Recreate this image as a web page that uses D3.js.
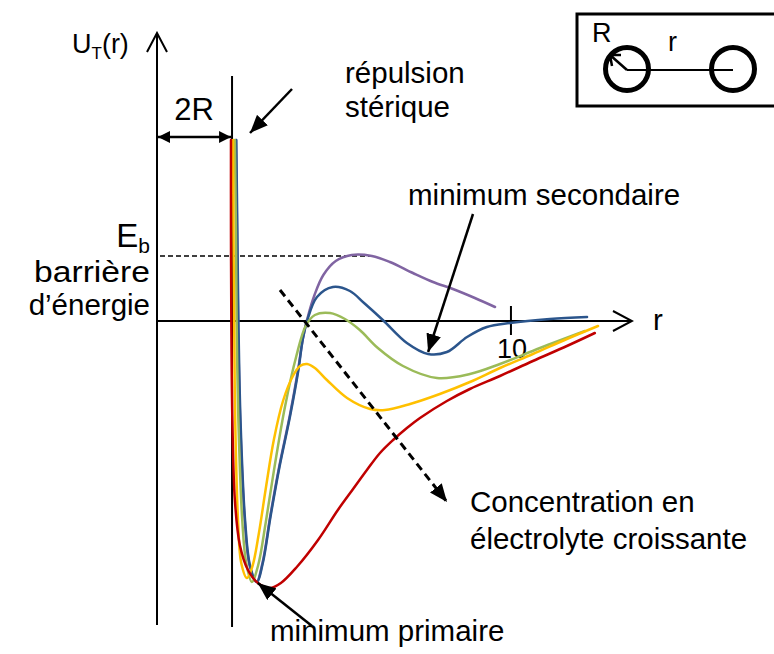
<!DOCTYPE html>
<html>
<head>
<meta charset="utf-8">
<script src="https://cdn.jsdelivr.net/npm/d3@7"></script>
<style>
  html, body { margin: 0; padding: 0; background: #fff; }
  svg { display: block; }
  text { font-family: "Liberation Sans", Arial, sans-serif; fill: #000; }
</style>
</head>
<body>
<svg id="chart" width="774" height="654"></svg>
<script>
// Interaction potential U_T(r) between two particles (DLVO profile),
// one curve per electrolyte concentration, lowest to highest.
const rMax = 13.42;          // end of the r axis
const uMin = -30.4;          // bottom of the U axis
const uMax = 28.8;           // top of the U axis
const radius = 1.06;         // particle radius R (contact at r = 2R)
const barrierEnergy = 6.5;   // E_b
const rTicks = [10];
const rTickLabels = ["10"];

const seriesNames = ["c1", "c2", "c3", "c4", "c5"];
const seriesColors = ["#8064A2", "#2B558C", "#9BBB59", "#FFC000", "#C00000"];

// [r, U] points along each profile
const curvePurple = [
  [2.23, 18.1], [2.26, 9.1], [2.29, 0], [2.35, -10], [2.48, -20], [2.62, -24.5],
  [2.81, -26.1], [2.98, -24.2], [3.2, -19.5], [3.45, -14.6], [3.75, -9.5],
  [3.98, -5.0], [4.12, -1.8], [4.26, 0.4], [4.45, 2.6], [4.7, 4.6], [5.05, 6.0],
  [5.5, 6.6], [6.07, 6.5], [6.58, 5.9], [7.23, 4.8], [7.8, 3.9], [8.36, 3.2],
  [8.98, 2.3], [9.55, 1.4]
];
const curveBlue = [
  [2.24, 18.1], [2.27, 9.1], [2.30, 0], [2.36, -10], [2.49, -20], [2.63, -24.5],
  [2.82, -26.1], [2.99, -24.2], [3.21, -19.5], [3.46, -14.6], [3.76, -9.5],
  [3.99, -5.0], [4.12, -1.8], [4.24, 0], [4.52, 2.4], [4.97, 3.4], [5.45, 3.0],
  [5.85, 1.8], [6.38, 0.1], [7.06, -2.2], [7.66, -3.3], [8.19, -3.1],
  [8.76, -1.6], [9.32, -0.6], [9.97, -0.2], [11.1, 0.2], [12.15, 0.4]
];
const curveGreen = [
  [2.20, 18.1], [2.23, 9.1], [2.25, 0], [2.30, -10], [2.41, -20], [2.52, -24.2],
  [2.68, -26.1], [2.86, -24.4], [3.07, -20.2], [3.32, -14.6], [3.62, -8.5],
  [3.93, -3.6], [4.2, -0.5], [4.46, 0.6], [4.89, 0.8], [5.31, 0.2],
  [5.73, -0.9], [6.24, -2.7], [6.95, -4.5], [7.91, -5.7], [8.84, -5.3],
  [9.69, -4.3], [10.82, -2.7], [12.09, -1.0]
];
const curveYellow = [
  [2.15, 18.1], [2.16, 9.1], [2.18, 0], [2.21, -10], [2.29, -20], [2.38, -24.2],
  [2.54, -25.7], [2.69, -24.6], [2.87, -21.4], [3.08, -16.6], [3.3, -11.9],
  [3.56, -8.0], [3.84, -5.5], [4.04, -4.5], [4.24, -4.3], [4.46, -4.7],
  [4.8, -5.9], [5.37, -7.7], [6.02, -8.8], [6.44, -8.9], [7.15, -8.3],
  [7.99, -7.3], [8.84, -6.1], [9.69, -4.7], [10.62, -3.3], [11.58, -1.8],
  [12.46, -0.5]
];
const curveRed = [
  [2.09, 18.1], [2.09, 9.1], [2.10, 0], [2.13, -10], [2.20, -17.9], [2.34, -22.4],
  [2.57, -24.9], [2.85, -26.2], [3.19, -26.7], [3.5, -26.2], [3.95, -24.6],
  [4.55, -21.9], [5.11, -18.9], [5.54, -16.8], [5.93, -14.9], [6.30, -13.2],
  [6.67, -11.9], [7.06, -10.7], [7.43, -9.7], [8.19, -8.0], [8.84, -6.8],
  [9.69, -5.5], [10.62, -4.0], [11.58, -2.5], [12.37, -1.2]
];
const curves = [curvePurple, curveBlue, curveGreen, curveYellow, curveRed];

const svg = d3.select("#chart");
const x = d3.scaleLinear().domain([0, rMax]).range([157, 632]);
const y = d3.scaleLinear().domain([uMin, uMax]).range([625, 33]);

// markers
const defs = svg.append("defs");
function solidHead(id, len, wid) {
  defs.append("marker")
    .attr("id", id).attr("markerUnits", "userSpaceOnUse")
    .attr("viewBox", `0 0 ${len} ${wid}`)
    .attr("refX", len).attr("refY", wid / 2)
    .attr("markerWidth", len).attr("markerHeight", wid)
    .attr("orient", "auto-start-reverse")
    .append("path").attr("d", `M0,0L${len},${wid / 2}L0,${wid}Z`).attr("fill", "#000");
}
solidHead("head", 18, 15);
solidHead("headSmall", 12, 12);
defs.append("marker")
  .attr("id", "chevron").attr("markerUnits", "userSpaceOnUse")
  .attr("viewBox", "-22 -12 24 24").attr("refX", 0).attr("refY", 0)
  .attr("markerWidth", 24).attr("markerHeight", 24).attr("orient", "auto")
  .append("path").attr("d", "M-19,-10L0,0L-19,10")
  .attr("fill", "none").attr("stroke", "#000").attr("stroke-width", 2);

// axes
svg.append("line")
  .attr("x1", x(0)).attr("y1", y(uMin)).attr("x2", x(0)).attr("y2", y(uMax))
  .attr("stroke", "#000").attr("stroke-width", 2).attr("marker-end", "url(#chevron)");
svg.append("line")
  .attr("x1", x(0)).attr("y1", y(0)).attr("x2", x(rMax)).attr("y2", y(0))
  .attr("stroke", "#000").attr("stroke-width", 2).attr("marker-end", "url(#chevron)");

// contact distance 2R
svg.append("line")
  .attr("x1", x(2 * radius)).attr("y1", y(24.5)).attr("x2", x(2 * radius)).attr("y2", y(uMin - 0.2))
  .attr("stroke", "#000").attr("stroke-width", 2);
svg.append("line")
  .attr("x1", x(0) + 1).attr("y1", 137).attr("x2", x(2 * radius) - 1).attr("y2", 137)
  .attr("stroke", "#000").attr("stroke-width", 2.5)
  .attr("marker-start", "url(#headSmall)").attr("marker-end", "url(#headSmall)");

// r tick
rTicks.forEach((t, i) => {
  svg.append("line")
    .attr("x1", x(t)).attr("y1", y(0) - 15).attr("x2", x(t)).attr("y2", y(0) + 14)
    .attr("stroke", "#000").attr("stroke-width", 2);
  svg.append("text").attr("x", x(t) + 1).attr("y", y(0) + 37)
    .attr("text-anchor", "middle").attr("font-size", 27).text(rTickLabels[i]);
});

// energy barrier
svg.append("line")
  .attr("x1", x(0) + 3).attr("y1", y(barrierEnergy)).attr("x2", x(6.07)).attr("y2", y(barrierEnergy))
  .attr("stroke", "#000").attr("stroke-width", 1.5).attr("stroke-dasharray", "5,3");

// profiles
const line = d3.line().x(d => x(d[0])).y(d => y(d[1])).curve(d3.curveCatmullRom.alpha(0.5));
svg.append("g").selectAll("path").data(curves).join("path")
  .attr("d", line)
  .attr("fill", "none")
  .attr("stroke", (d, i) => seriesColors[i])
  .attr("stroke-width", 2.5)
  .attr("stroke-linecap", "round");

// increasing concentration
svg.append("line")
  .attr("x1", 280).attr("y1", 290).attr("x2", 447).attr("y2", 502)
  .attr("stroke", "#000").attr("stroke-width", 3).attr("stroke-dasharray", "8,5")
  .attr("marker-end", "url(#head)");

// annotation arrows
svg.append("line").attr("x1", 292).attr("y1", 89).attr("x2", 250).attr("y2", 133)
  .attr("stroke", "#000").attr("stroke-width", 2.5).attr("marker-end", "url(#head)");
svg.append("line").attr("x1", 473).attr("y1", 214).attr("x2", x(7.66)).attr("y2", y(-3.3) - 2)
  .attr("stroke", "#000").attr("stroke-width", 2.5).attr("marker-end", "url(#head)");
svg.append("line").attr("x1", 312).attr("y1", 626).attr("x2", x(2.82) + 1).attr("y2", y(-26.1) + 1)
  .attr("stroke", "#000").attr("stroke-width", 2.5).attr("marker-end", "url(#head)");

// labels
const fs = 29.5;
function label(tx, ty, str, anchor) {
  return svg.append("text").attr("x", tx).attr("y", ty)
    .attr("text-anchor", anchor || "start").attr("font-size", fs).text(str);
}
const ut = svg.append("text").attr("x", 72).attr("y", 53).attr("font-size", 27);
ut.append("tspan").text("U");
ut.append("tspan").attr("font-size", 17).attr("dy", 6).text("T");
ut.append("tspan").attr("dy", -6).text("(r)");

label(194, 120, "2R", "middle").attr("font-size", 31);
label(345, 83, "répulsion");
label(345, 117, "stérique");
label(408, 205, "minimum secondaire");
const eb = svg.append("text").attr("x", 150).attr("y", 247).attr("text-anchor", "end").attr("font-size", 33);
eb.append("tspan").text("E");
eb.append("tspan").attr("font-size", 21).attr("dy", 6).text("b");
label(150, 282, "barrière", "end").attr("textLength", 116).attr("lengthAdjust", "spacingAndGlyphs");
label(150, 315, "d’énergie", "end");
label(653, 330, "r");
label(470, 512, "Concentration en");
label(470, 549, "électrolyte croissante");
label(270, 641, "minimum primaire");

// inset: two particles of radius R at distance r
const inset = svg.append("g");
inset.append("rect").attr("x", 577).attr("y", 14).attr("width", 210).attr("height", 92)
  .attr("fill", "none").attr("stroke", "#000").attr("stroke-width", 3);
inset.append("line").attr("x1", 627).attr("y1", 70).attr("x2", 733).attr("y2", 70)
  .attr("stroke", "#000").attr("stroke-width", 2);
[627, 733].forEach(cx => {
  inset.append("circle").attr("cx", cx).attr("cy", 69).attr("r", 21.5)
    .attr("fill", "none").attr("stroke", "#000").attr("stroke-width", 5);
});
inset.append("path").attr("d", "M627,70L610,55M610,55L621,55M610,55L612,66")
  .attr("fill", "none").attr("stroke", "#000").attr("stroke-width", 2.5);
inset.append("text").attr("x", 592).attr("y", 42).attr("font-size", 27).text("R");
inset.append("text").attr("x", 668).attr("y", 51).attr("font-size", 27).text("r");
</script>
</body>
</html>
